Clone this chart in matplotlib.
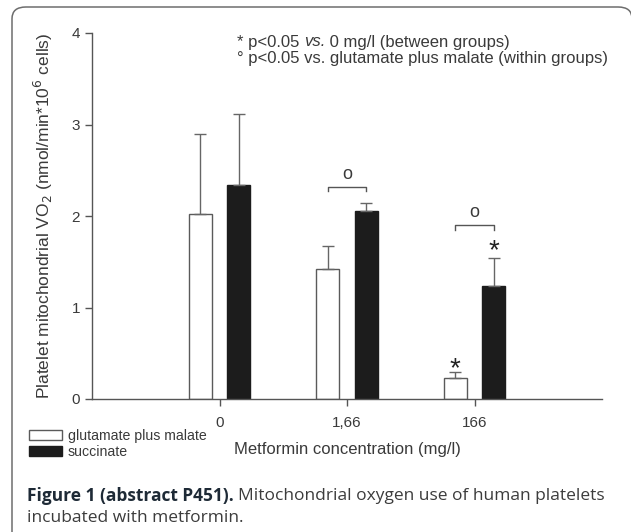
import numpy as np
import matplotlib.pyplot as plt
from matplotlib.patches import FancyBboxPatch

# data
groups = ['0', '1,66', '166']
glut_malate = [2.02, 1.42, 0.23]
glut_malate_err = [0.88, 0.25, 0.07]
succinate = [2.34, 2.05, 1.23]
succinate_err = [0.77, 0.09, 0.31]
yticks = [0, 1, 2, 3, 4]

chart_font = ['Liberation Sans', 'DejaVu Sans']
txt = '#3a3a3a'

W, H = 631, 532
fig = plt.figure(figsize=(W / 100, H / 100), dpi=100)

# rounded frame around the figure
frame = FancyBboxPatch((12 / W, -0.05), (632 - 12) / W, (H - 7) / H + 0.05,
                       boxstyle='round,pad=0,rounding_size=0.022',
                       transform=fig.transFigure, fc='none', ec='#6d6d6d', lw=1.1,
                       clip_on=False)
fig.patches.append(frame)

ax = fig.add_axes([92 / W, 1 - 399 / H, (602 - 92) / W, (399 - 33) / H])
x = np.arange(len(groups))
off, w = 0.15, 0.18
ekw = dict(ecolor='#666666', elinewidth=1.0, capsize=4, capthick=1.0)
b1 = ax.bar(x - off, glut_malate, w, color='white', edgecolor='#5a5a5a', lw=1.0,
            yerr=[np.zeros(3), glut_malate_err], error_kw=ekw, label='glutamate plus malate')
b2 = ax.bar(x + off, succinate, w, color='#1c1c1c', edgecolor='#1c1c1c', lw=1.0,
            yerr=[np.zeros(3), succinate_err], error_kw=ekw, label='succinate')

ax.set_xlim(-1, 3)
ax.set_ylim(0, 4)
ax.set_yticks(yticks)
ax.set_xticks(x)
ax.set_xticklabels(groups)
for s in ['top', 'right']:
    ax.spines[s].set_visible(False)
for s in ['left', 'bottom']:
    ax.spines[s].set_color('#555555')
    ax.spines[s].set_linewidth(1.0)
ax.tick_params(colors='#555555', labelcolor=txt, length=5, width=1.0, labelsize=11)
ax.tick_params(axis='x', pad=7)
for lab in ax.get_xticklabels() + ax.get_yticklabels():
    lab.set_family(chart_font)

ax.set_ylabel('Platelet mitochondrial VO$_2$ (nmol/min*10$^6$ cells)', fontsize=12.5,
              color=txt, family=chart_font, labelpad=12)
ax.set_xlabel('Metformin concentration (mg/l)', fontsize=12, color=txt,
              family=chart_font, labelpad=9)

# significance brackets
def bracket(g, y, tip=0.05):
    xs = [g - off, g - off, g + off, g + off]
    ys = [y - tip, y, y, y - tip]
    ax.plot(xs, ys, color='#555555', lw=1.0)
    ax.text(g, y + 0.04, 'o', ha='center', va='bottom', fontsize=13, color=txt, family=chart_font)

bracket(1, 2.32)
bracket(2, 1.9)
ax.text(2 - off, 0.33, '*', ha='center', va='center', fontsize=20, color='#222222', family=chart_font)
ax.text(2 + off, 1.62, '*', ha='center', va='center', fontsize=20, color='#222222', family=chart_font)

# key text, first line has an italic "vs."
fig.canvas.draw()
kx, ky1, ky2 = 237, 42, 59
pieces = [('* p<0.05 ', 'normal'), ('vs.', 'italic'), (' 0 mg/l (between groups)', 'normal')]
cx = kx
for s, st in pieces:
    t = fig.text(cx / W, 1 - ky1 / H, s, fontsize=12, color=txt, family=chart_font,
                 style=st, va='center')
    cx = t.get_window_extent().x1
fig.text(kx / W, 1 - ky2 / H, '° p<0.05 vs. glutamate plus malate (within groups)', fontsize=12,
         color=txt, family=chart_font, va='center')

leg = fig.legend(handles=[b1, b2], loc='upper left', bbox_to_anchor=(29 / W, 1 - 429 / H),
                 frameon=False, handlelength=2.3, handleheight=0.7, handletextpad=0.45,
                 labelspacing=0.15, borderpad=0, borderaxespad=0,
                 prop={'family': chart_font, 'size': 10.2})
for t in leg.get_texts():
    t.set_color(txt)

# caption
cap_bold = fig.text(27 / W, 1 - 496 / H, 'Figure 1 (abstract P451).', fontsize=12.5,
                    fontweight='bold', color='#1e2a36', family='Open Sans', va='center')
fig.canvas.draw()
bb = cap_bold.get_window_extent()
fig.text((bb.x1 + 4) / W, 1 - 496 / H, 'Mitochondrial oxygen use of human platelets',
         fontsize=12.5, color='#3c3c3c', family='Open Sans', va='center')
fig.text(27 / W, 1 - 518 / H, 'incubated with metformin.', fontsize=12.5,
         color='#3c3c3c', family='Open Sans', va='center')

fig.savefig('out.png', dpi=100)
